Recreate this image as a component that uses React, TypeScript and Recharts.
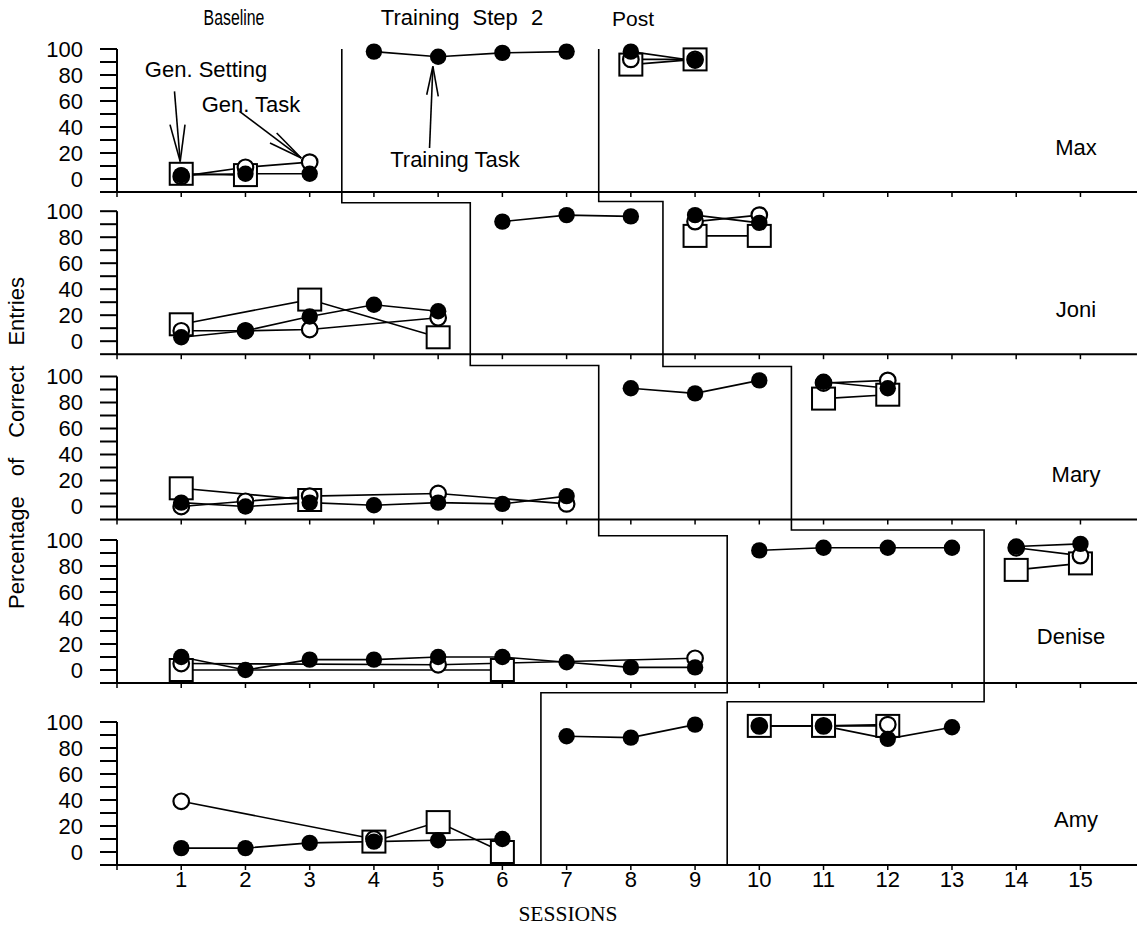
import { ComposedChart, Line, XAxis, YAxis, ReferenceLine } from 'recharts'

type Row = { s: number; train?: number; task?: number; setting?: number }

// sessions on the x axis, percent ticks on each panel
const sessionTicks = [0, 1, 2, 3, 4, 5, 6, 7, 8, 9, 10, 11, 12, 13, 14, 15]
const valueTicks = [-10, 0, 10, 20, 30, 40, 50, 60, 70, 80, 90, 100]

const names = ['Max', 'Joni', 'Mary', 'Denise', 'Amy']
// phase change positions (between sessions)
const trainingStart = [3.5, 5.5, 7.5, 9.5, 6.6]
const postStart = [7.5, 8.5, 10.5, 13.5, 9.5]

// train = Training Task (filled), task = Gen. Task (open circle), setting = Gen. Setting (square)
const maxBaseline: Row[] = [
  { s: 1, train: 3, task: 2, setting: 4 },
  { s: 2, train: 4, task: 9, setting: 3 },
  { s: 3, train: 4, task: 13 },
]
const maxTraining: Row[] = [
  { s: 4, train: 98 }, { s: 5, train: 94 }, { s: 6, train: 97 }, { s: 7, train: 98 },
]
const maxPost: Row[] = [
  { s: 8, train: 98, task: 92, setting: 88 },
  { s: 9, train: 91, task: 92, setting: 92 },
]

const joniBaseline: Row[] = [
  { s: 1, train: 3, task: 8, setting: 13 },
  { s: 2, train: 8, task: 8 },
  { s: 3, train: 19, task: 9, setting: 32 },
  { s: 4, train: 28 },
  { s: 5, train: 23, task: 18, setting: 3 },
]
const joniTraining: Row[] = [{ s: 6, train: 92 }, { s: 7, train: 97 }, { s: 8, train: 96 }]
const joniPost: Row[] = [
  { s: 9, train: 97, task: 92, setting: 81 },
  { s: 10, train: 91, task: 97, setting: 81 },
]

const maryBaseline: Row[] = [
  { s: 1, train: 3, task: 0, setting: 14 },
  { s: 2, train: 0, task: 4 },
  { s: 3, train: 3, task: 8, setting: 5 },
  { s: 4, train: 1 },
  { s: 5, train: 3, task: 10 },
  { s: 6, train: 2 },
  { s: 7, train: 8, task: 2 },
]
const maryTraining: Row[] = [{ s: 8, train: 91 }, { s: 9, train: 87 }, { s: 10, train: 97 }]
const maryPost: Row[] = [
  { s: 11, train: 96, task: 95, setting: 83 },
  { s: 12, train: 91, task: 97, setting: 86 },
]

const deniseBaseline: Row[] = [
  { s: 1, train: 10, task: 5, setting: 0 },
  { s: 2, train: 0 },
  { s: 3, train: 8 },
  { s: 4, train: 8 },
  { s: 5, train: 10, task: 4 },
  { s: 6, train: 10, setting: 0 },
  { s: 7, train: 6 },
  { s: 8, train: 2 },
  { s: 9, train: 2, task: 9 },
]
const deniseTraining: Row[] = [
  { s: 10, train: 92 }, { s: 11, train: 94 }, { s: 12, train: 94 }, { s: 13, train: 94 },
]
const denisePost: Row[] = [
  { s: 14, train: 95, task: 94, setting: 77 },
  { s: 15, train: 97, task: 88, setting: 82 },
]

const amyBaseline: Row[] = [
  { s: 1, train: 3, task: 39 },
  { s: 2, train: 3 },
  { s: 3, train: 7 },
  { s: 4, train: 8, task: 10, setting: 8 },
  { s: 5, train: 9, setting: 23 },
  { s: 6, train: 10, setting: 0 },
]
const amyTraining: Row[] = [{ s: 7, train: 89 }, { s: 8, train: 88 }, { s: 9, train: 98 }]
const amyPost: Row[] = [
  { s: 10, train: 97, task: 97, setting: 97 },
  { s: 11, train: 97, task: 97, setting: 97 },
  { s: 12, train: 87, task: 98, setting: 97 },
  { s: 13, train: 96 },
]

const panelPhases: Row[][][] = [
  [maxBaseline, maxTraining, maxPost],
  [joniBaseline, joniTraining, joniPost],
  [maryBaseline, maryTraining, maryPost],
  [deniseBaseline, deniseTraining, denisePost],
  [amyBaseline, amyTraining, amyPost],
]

// layout (page pixels)
const W = 1137
const PLOT_LEFT = 117
const PX_PER_UNIT = 1.3
const panelTop = [36.3, 192.3, 354.5, 519, 683]
const panelAxis = [192.3, 354.5, 519, 683, 865]
const stepA = [0, 106.5, 108.5, 103.3, 122.5]
const stepB = [0, 107.5, 107.7, 107.7, 115.6]
const nameY = [148, 310, 475, 637, 820]
const X_MAX = (W - PLOT_LEFT) / 64.23

const FONT = "'Liberation Sans', Arial, sans-serif"

// annotation arrows in panel 1 data coordinates
const arrows = [
  { from: [0.895, 67.4], to: [0.984, 13.5], wings: [[0.825, 41.8], [1.059, 41.8]] },
  { from: [1.907, 52], to: [2.868, 16.2], wings: [[2.486, 35.4], [2.382, 27.7]] },
  { from: [4.866, 23.8], to: [4.918, 86.6], wings: [[4.822, 64.8], [5.002, 63.5]] },
]

function phasePath(bounds: number[], steps: number[], k: number, top: number) {
  if (k === 0) return [{ s: bounds[0], y: 100 }, { s: bounds[0], y: -10 }]
  return [
    { s: bounds[k - 1], y: top },
    { s: bounds[k - 1], y: steps[k] },
    { s: bounds[k], y: steps[k] },
    { s: bounds[k], y: -10 },
  ]
}

const empty = (p: any) => <g key={p.key ?? p.index} />

const filledDot = (p: any) =>
  p.cx == null || p.cy == null || p.value == null ? empty(p) : (
    <circle key={p.key ?? p.index} cx={p.cx} cy={p.cy} r={8.2} fill="#000" />
  )

const openDot = (p: any) =>
  p.cx == null || p.cy == null || p.value == null ? empty(p) : (
    <circle key={p.key ?? p.index} cx={p.cx} cy={p.cy} r={7.8} fill="#fff" stroke="#000" strokeWidth={2.2} />
  )

const squareDot = (p: any) =>
  p.cx == null || p.cy == null || p.value == null ? empty(p) : (
    <rect key={p.key ?? p.index} x={p.cx - 11.5} y={p.cy - 11} width={23} height={22}
      fill="#fff" stroke="#000" strokeWidth={2} />
  )

const series = [
  { key: 'setting', dot: squareDot },
  { key: 'task', dot: openDot },
  { key: 'train', dot: filledDot },
]

function Panel({ k }: { k: number }) {
  const last = k === 4
  const plotH = panelAxis[k] - panelTop[k]
  const top = -10 + plotH / PX_PER_UNIT
  const xAxisH = last ? 40 : 6
  const phases = panelPhases[k]

  return (
    <div style={{ position: 'absolute', left: 0, top: panelTop[k] }}>
      <ComposedChart width={W} height={plotH + xAxisH} margin={{ top: 0, right: 0, bottom: 0, left: 0 }}>
        <XAxis
          dataKey="s"
          type="number"
          domain={[0, X_MAX]}
          ticks={sessionTicks}
          interval={0}
          allowDataOverflow
          tickSize={5}
          tickMargin={1}
          height={xAxisH}
          axisLine={{ stroke: '#000', strokeWidth: 2 }}
          tickLine={{ stroke: '#000', strokeWidth: 1.5 }}
          tick={{ fill: '#000', fontSize: 22, fontFamily: FONT }}
          tickFormatter={(v: number) => (last && v > 0 ? String(v) : '')}
        />
        <YAxis
          type="number"
          domain={[-10, top]}
          ticks={valueTicks}
          interval={0}
          allowDataOverflow
          width={PLOT_LEFT}
          tickSize={17}
          tickMargin={17}
          axisLine={false}
          tickLine={{ stroke: '#000', strokeWidth: 2 }}
          tick={{ fill: '#000', fontSize: 22, fontFamily: FONT }}
          tickFormatter={(v: number) => (v >= 0 && v % 20 === 0 ? String(v) : '')}
        />
        <ReferenceLine segment={[{ x: 0, y: -10 }, { x: 0, y: 100 }]} stroke="#000" strokeWidth={2} />

        {/* phase change lines */}
        <Line data={phasePath(trainingStart, stepA, k, top)} dataKey="y" stroke="#000" strokeWidth={1.6}
          dot={false} activeDot={false} isAnimationActive={false} />
        <Line data={phasePath(postStart, stepB, k, top)} dataKey="y" stroke="#000" strokeWidth={1.6}
          dot={false} activeDot={false} isAnimationActive={false} />

        {/* connecting lines first, markers on top */}
        {phases.map((rows, pi) =>
          series.map((sr) => (
            <Line key={`l${pi}${sr.key}`} data={rows} dataKey={sr.key} stroke="#000" strokeWidth={1.6}
              connectNulls dot={false} activeDot={false} isAnimationActive={false} />
          ))
        )}
        {phases.map((rows, pi) =>
          series.map((sr) => (
            <Line key={`d${pi}${sr.key}`} data={rows} dataKey={sr.key} stroke="none"
              connectNulls dot={sr.dot} activeDot={false} isAnimationActive={false} />
          ))
        )}

        {k === 0 &&
          arrows.flatMap((a, i) => [
            <ReferenceLine key={`a${i}`} segment={[{ x: a.from[0], y: a.from[1] }, { x: a.to[0], y: a.to[1] }]}
              stroke="#000" strokeWidth={1.6} />,
            ...a.wings.map((w, j) => (
              <ReferenceLine key={`w${i}${j}`} segment={[{ x: w[0], y: w[1] }, { x: a.to[0], y: a.to[1] }]}
                stroke="#000" strokeWidth={1.6} />
            )),
          ])}
      </ComposedChart>
    </div>
  )
}

function Txt({ x, y, children, size = 22, style }: { x: number; y: number; children: any; size?: number; style?: any }) {
  return (
    <div
      style={{
        position: 'absolute', left: x, top: y, transform: 'translate(-50%, -50%)',
        fontFamily: FONT, fontSize: size, color: '#000', whiteSpace: 'nowrap', lineHeight: 1,
        pointerEvents: 'none', ...style,
      }}
    >
      {children}
    </div>
  )
}

export default function App() {
  return (
    <div style={{ position: 'absolute', left: 0, top: 0, width: W, height: 930, background: '#fff', overflow: 'hidden' }}>
      {[0, 1, 2, 3, 4].map((k) => <Panel key={k} k={k} />)}

      <Txt x={234} y={18} size={22} style={{ transform: 'translate(-50%, -50%) scaleX(0.72)' }}>Baseline</Txt>
      <Txt x={462} y={18} size={22} style={{ wordSpacing: 7 }}>Training Step 2</Txt>
      <Txt x={633} y={18} size={21}>Post</Txt>

      <Txt x={206} y={70}>Gen. Setting</Txt>
      <Txt x={251} y={105}>Gen. Task</Txt>
      <Txt x={455} y={160}>Training Task</Txt>

      {names.map((n, k) => (
        <Txt key={n} x={n === 'Denise' ? 1071 : 1076} y={nameY[k]}>{n}</Txt>
      ))}

      <div
        style={{
          position: 'absolute', left: 17, top: 443, transform: 'translate(-50%, -50%) rotate(-90deg)',
          fontFamily: FONT, fontSize: 22, wordSpacing: 14, whiteSpace: 'nowrap', lineHeight: 1, color: '#000',
        }}
      >
        Percentage of Correct Entries
      </div>

      <Txt x={568} y={915} size={21.5} style={{ fontFamily: "'Liberation Serif', 'Times New Roman', serif" }}>
        SESSIONS
      </Txt>
    </div>
  )
}
